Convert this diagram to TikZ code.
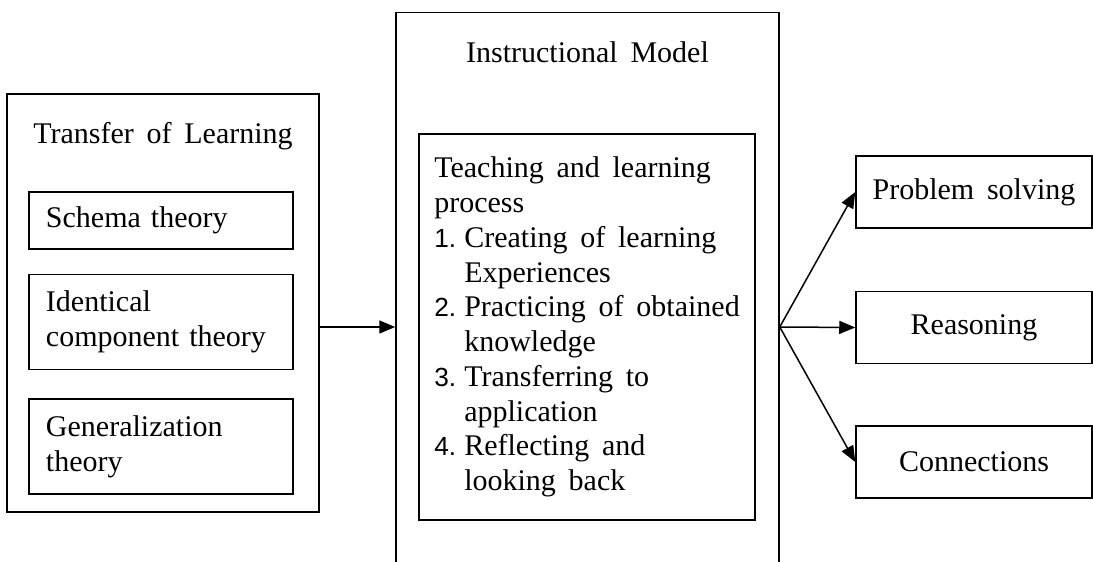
\documentclass[tikz,border=0pt]{standalone}
\usepackage{fontspec}
\setmainfont{Liberation Serif}[WordSpace=1.7]
\newfontfamily\numfont{Liberation Sans}
\usepackage{tikz}
\usetikzlibrary{arrows.meta,positioning}

% numbered steps with a hanging indent
\newcommand{\stepno}[1]{\makebox[12pt][l]{\numfont\fontsize{10.5}{13.9}\selectfont #1.}}
\newcommand{\stepgap}{\hspace*{12pt}}

\begin{document}
\begin{tikzpicture}[
    font=\fontsize{12}{13.9}\selectfont,
    box/.style={rectangle, draw=black, line width=0.6pt},
    theory/.style={box, text width=92pt, inner xsep=6.8pt, minimum height=38pt, align=left},
    outcome/.style={box, minimum width=94.4pt, minimum height=28.8pt},
    arrow/.style={-{Triangle[length=6.4pt,width=5.2pt]}, line width=0.6pt}
]
\useasboundingbox (0,0) rectangle (437.2pt,224.8pt);
\clip (0,0) rectangle (437.2pt,224.8pt);

% left column
\node[box, minimum width=124.8pt, minimum height=167.2pt] (transfer) at (65.2pt,103.6pt) {};
\node[anchor=base] (transfertitle) at (65.2pt,167.5pt) {Transfer of Learning};
\node[theory, minimum height=22.8pt] (schema) at (64.4pt,136.6pt) {Schema theory};
\node[theory, below=9.6pt of schema] (identical) {Identical\\component theory};
\node[theory, below=11.2pt of identical] (general) {Generalization\\theory};

% middle column
\node[box, minimum width=153.2pt, minimum height=240pt, anchor=north] (model) at (235pt,220pt) {};
\node[anchor=base] (modeltitle) at (235pt,199.6pt) {Instructional Model};
\node[box, minimum width=134.4pt, minimum height=154.4pt, align=left] (process) at (234.8pt,94pt) {%
    Teaching and learning\\
    process\\
    \stepno{1}Creating of learning\\
    \stepgap Experiences\\
    \stepno{2}Practicing of obtained\\
    \stepgap knowledge\\
    \stepno{3}Transferring to\\
    \stepgap application\\
    \stepno{4}Reflecting and\\
    \stepgap looking back};

% right column
\node[outcome] (solving) at (389.6pt,148pt) {Problem solving};
\node[outcome, below=24.8pt of solving] (reasoning) {Reasoning};
\node[outcome, below=24.4pt of reasoning] (connections) {Connections};

% connectors
\draw[arrow] (transfer.east |- process.west) -- (model.west |- process.west);
\coordinate (fan) at (model.east |- process.east);
\draw[arrow] (fan) -- (solving.west);
\draw[arrow] (fan) -- (reasoning.west);
\draw[arrow] (fan) -- (connections.west);
\end{tikzpicture}
\end{document}
